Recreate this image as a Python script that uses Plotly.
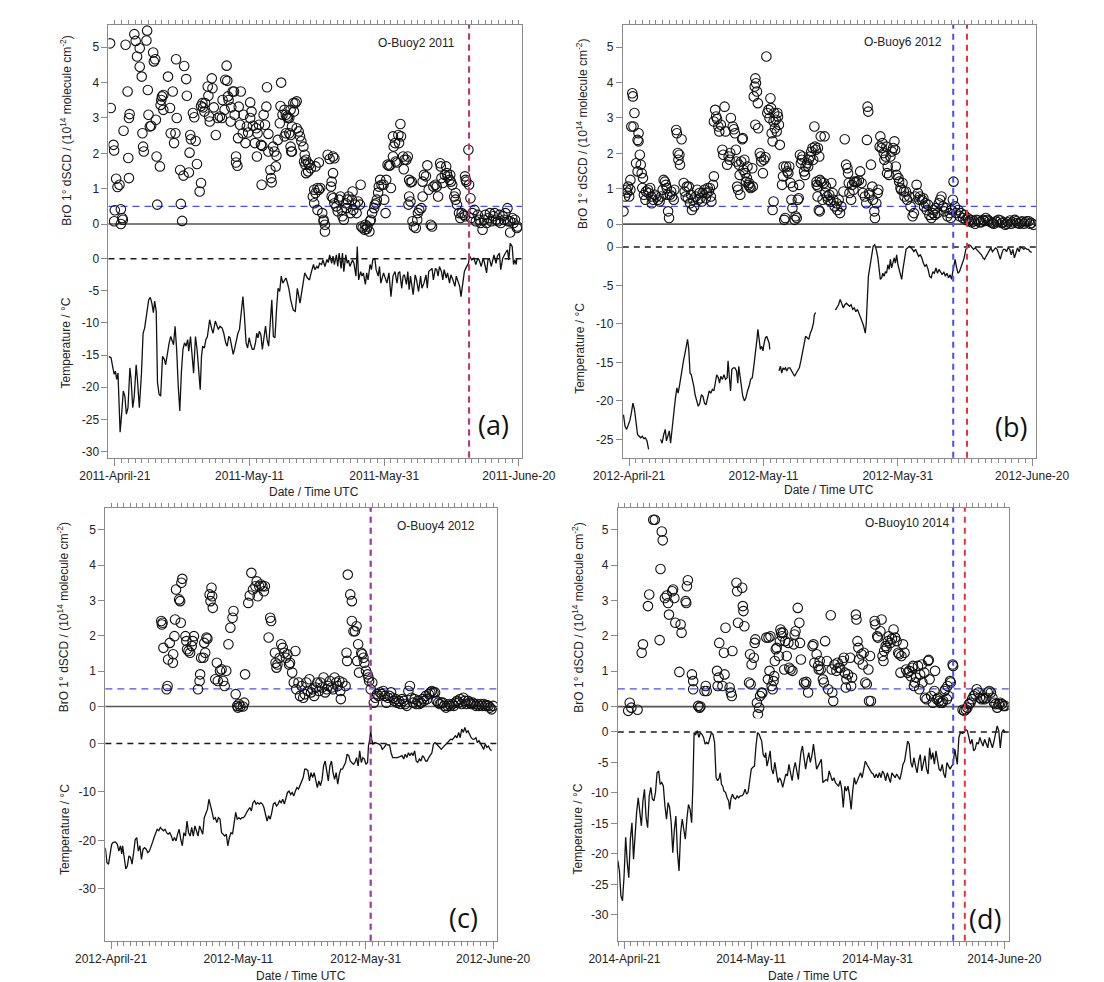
import pandas as pd
import plotly.graph_objects as go

W, H = 1104, 982

# ---------------------------------------------------------------------------
# Data: (days after April 21 00:00 UTC, value)
# BrO 1° dSCD in 1e14 molecule cm-2, temperature in °C
# ---------------------------------------------------------------------------
BRO_A = [
    (-0.7, 5.11), (-0.6, 3.28), (-0.2, 2.24), (-0.1, 2.08), (0.2, 1.28), (0.4, 1.05), (0.7, 1.11),
    (0.0, 0.39), (-0.1, 0.08), (0.9, 0.42), (0.9, 0.0), (1.1, 0.17), (1.2, 0.12), (1.3, 2.64),
    (1.6, 5.07), (1.9, 3.75), (2.0, 1.87), (2.1, 1.30), (2.2, 3.11), (2.1, 3.0), (2.9, 5.37),
    (3.1, 5.18), (3.3, 4.74), (3.7, 4.97), (3.7, 4.45), (4.0, 4.17), (4.1, 2.57), (4.2, 2.19),
    (4.3, 2.05), (4.8, 5.47), (4.7, 5.19), (4.9, 3.79), (5.0, 3.09), (5.2, 2.76), (5.4, 2.78),
    (6.1, 2.95), (5.7, 4.85), (5.8, 4.6), (6.0, 4.66), (6.2, 1.91), (6.3, 0.55), (6.7, 1.63),
    (6.8, 3.37), (6.9, 3.51), (7.0, 3.61), (7.2, 3.65), (7.2, 3.23), (7.9, 4.17), (8.2, 3.28),
    (8.3, 2.57), (8.6, 3.75), (8.8, 2.29), (9.0, 2.57), (9.1, 4.66), (9.2, 3.0), (9.7, 1.53),
    (9.8, 0.57), (10.0, 0.09), (10.2, 1.37), (10.3, 4.47), (10.6, 4.1), (10.7, 3.63), (11.0, 1.46),
    (11.1, 2.02), (11.2, 2.52), (11.3, 2.4), (11.6, 3.14), (11.8, 3.02), (12.0, 2.35), (12.2, 1.7),
    (12.6, 0.92), (12.8, 1.16), (12.8, 3.34), (13.0, 3.42), (13.1, 3.3), (13.3, 3.18), (13.4, 3.42),
    (13.8, 3.89), (13.9, 3.63), (14.0, 3.04), (14.1, 2.9), (14.4, 4.12), (14.5, 3.84), (14.7, 3.3),
    (15.0, 2.52), (15.3, 3.0), (15.6, 3.04), (15.9, 3.0), (16.0, 3.51), (16.3, 3.23), (16.4, 4.08),
    (16.6, 4.48), (16.7, 4.05), (16.8, 3.61), (16.9, 3.51), (17.2, 2.9), (17.3, 3.3), (17.5, 3.75),
    (17.7, 3.75), (17.8, 3.09), (18.0, 1.91), (18.0, 1.74), (18.2, 1.65), (18.3, 2.43), (18.4, 3.32),
    (18.6, 2.81), (18.7, 3.75), (19.0, 2.57), (19.1, 3.09), (19.4, 2.29), (19.6, 2.76), (19.8, 2.59),
    (20.1, 3.0), (20.1, 3.44), (20.3, 3.18), (20.5, 2.78), (20.8, 2.29), (21.0, 2.71), (21.1, 1.91),
    (21.2, 2.57), (21.4, 2.81), (21.7, 2.24), (21.8, 1.11), (21.9, 2.21), (22.1, 3.09), (22.3, 2.81),
    (22.5, 3.32), (22.6, 3.87), (22.8, 2.55), (22.8, 2.05), (23.1, 1.53), (23.2, 1.30), (23.3, 1.18),
    (23.5, 2.19), (23.7, 2.05), (23.9, 1.63), (24.0, 1.93), (24.2, 2.38), (24.5, 2.85), (24.6, 3.34),
    (24.7, 4.0), (24.9, 3.09), (25.2, 2.48), (25.4, 2.57), (25.6, 3.04), (25.9, 3.0), (26.1, 2.19),
    (26.3, 2.05), (26.5, 3.42),
    (25.2, 3.23), (25.4, 3.09), (25.7, 3.0), (26.1, 3.23), (26.6, 3.18), (26.8, 3.42), (27.0, 3.47),
    (25.9, 2.57), (26.1, 2.52), (26.3, 2.76), (27.0, 2.71), (27.3, 2.62), (27.5, 2.48), (27.7, 2.34),
    (26.2, 2.05), (28.0, 2.19), (28.2, 1.96), (28.4, 1.82), (28.1, 1.77), (28.3, 1.68), (28.7, 1.72),
    (28.9, 1.68), (28.4, 1.44), (28.7, 1.49), (29.1, 1.58), (29.4, 0.78), (29.6, 0.97), (29.8, 0.88),
    (30.1, 1.02), (30.3, 0.97), (30.5, 1.02), (29.6, 0.59), (29.8, 1.63), (30.3, 1.74), (30.1, 0.40),
    (30.8, 0.31), (31.0, 0.12), (31.2, -0.02), (31.2, -0.21), (31.0, 0.08), (31.6, 1.96), (31.9, 1.84),
    (32.4, 1.91), (32.6, 1.86), (32.2, 1.2), (32.4, 1.44), (32.1, 1.06), (32.2, 0.78), (32.4, 0.73),
    (32.6, 0.59), (32.9, 0.50), (33.1, 0.36), (33.3, 0.69), (33.5, 0.78), (33.7, 0.40), (33.8, 0.22),
    (34.0, 0.12), (34.3, 0.59), (34.4, 0.45), (34.5, 0.69), (34.7, 0.78), (35.0, 0.31), (35.2, 0.69),
    (35.3, 0.92), (35.4, 0.40), (35.7, 0.55), (35.9, 0.31), (36.1, 0.64), (36.4, 0.55), (36.5, 1.11),
    (36.6, -0.07), (36.8, -0.11), (37.1, -0.16), (37.2, -0.02), (37.4, -0.14), (37.5, -0.07),
    (37.8, -0.21), (37.9, 0.08), (38.0, 0.12), (38.2, 0.31), (38.5, 0.45), (38.6, 0.55), (38.8, 0.59),
    (38.9, 0.69), (39.1, 0.89), (39.2, 1.06), (39.4, 1.25), (39.6, 1.11), (39.9, 1.11), (40.0, 0.69),
    (40.2, 0.31), (40.3, 1.25), (40.5, 1.68), (40.7, 1.65), (40.9, 1.66), (41.0, 1.02), (41.3, 1.91),
    (41.4, 2.19), (41.3, 2.48), (41.6, 2.29), (41.7, 1.77), (41.9, 1.74), (42.1, 2.52), (42.2, 2.29),
    (42.4, 2.83), (42.5, 2.48), (42.8, 1.91), (42.9, 1.55), (43.0, 1.82), (43.3, 1.82), (43.5, 1.91),
    (43.7, 1.25), (43.9, 1.18), (44.1, 1.20), (43.7, 0.78), (43.9, 0.64), (43.6, 0.55), (44.2, 0.08),
    (44.4, -0.07), (44.7, -0.11), (44.9, 0.12), (45.0, 0.31), (45.2, 0.40), (45.5, 0.45), (45.7, 0.78),
    (45.7, 1.2), (45.9, 1.39), (46.2, 1.35), (46.4, 1.66), (46.6, 0.97), (46.9, -0.02), (47.1, -0.07),
    (47.3, 1.06), (47.6, 1.11), (47.8, 1.06), (48.0, 0.78), (48.3, 1.72), (48.4, 1.63), (48.5, 1.30),
    (48.7, 1.16), (49.0, 1.39), (49.2, 1.63), (49.3, 1.44), (49.4, 1.35), (49.7, 1.25), (49.8, 1.39),
    (49.9, 1.20), (50.1, 1.11), (50.4, 0.78), (50.6, 0.69), (50.6, 0.88), (50.8, 0.55), (51.1, 0.31),
    (51.3, 0.17), (51.5, 0.31), (51.8, 0.26), (52.0, 1.35), (52.1, 1.25), (52.2, 1.20), (52.0, 0.22),
    (52.5, 2.10), (52.6, 1.11), (52.8, 0.73), (52.9, 0.17), (53.1, 0.31), (53.4, 0.40), (53.6, 0.08),
    (53.9, 0.26), (54.1, 0.12), (54.3, 0.03), (54.6, -0.16), (54.8, 0.12), (55.0, 0.26), (55.2, 0.03),
    (55.5, 0.17), (55.7, 0.31), (55.9, 0.08), (56.2, 0.22), (56.4, 0.31), (56.6, 0.12), (56.9, 0.08),
    (57.1, 0.26), (57.3, 0.03), (57.6, 0.22), (57.8, 0.12), (58.0, 0.31), (58.3, 0.45), (58.4, 0.08),
    (58.7, -0.24), (58.7, 0.08), (59.0, 0.17), (59.2, 0.03), (59.4, 0.12), (59.7, -0.11), (59.8, -0.07),
]

TEMP_A = [
    (-0.93, -15.2), (-0.56, -15.4), (-0.33, -16.7), (-0.09, -18.0), (0.09, -17.5), (0.28, -18.8),
    (0.47, -17.8), (0.79, -27.0), (1.03, -24.0), (1.26, -20.6), (1.49, -21.4), (1.72, -24.2),
    (1.96, -23.2), (2.24, -17.0), (2.42, -18.8), (2.66, -23.2), (2.89, -21.4), (3.17, -16.5),
    (3.36, -18.8), (3.64, -23.2), (3.96, -17.8), (4.20, -11.6), (4.43, -10.8), (4.76, -8.2),
    (5.03, -6.4), (5.27, -6.0), (5.50, -6.9), (5.73, -8.4), (5.92, -6.6), (6.15, -8.2), (6.34, -19.3),
    (6.57, -21.1), (6.81, -21.4), (7.09, -15.2), (7.37, -15.7), (7.55, -16.5), (7.79, -14.7),
    (8.07, -13.1), (8.30, -12.1), (8.49, -12.6), (8.72, -13.4), (8.95, -10.5), (9.18, -14.1),
    (9.42, -19.8), (9.65, -23.7), (9.88, -17.8), (10.12, -14.1), (10.35, -13.1), (10.58, -13.6),
    (10.82, -12.6), (10.98, -14.4), (11.24, -12.1), (11.47, -15.2), (11.70, -17.8), (11.98, -12.1),
    (12.21, -14.1), (12.49, -17.8), (12.68, -20.4), (12.87, -15.2), (13.05, -13.6), (13.29, -13.9),
    (13.52, -12.6), (13.75, -12.1), (14.08, -9.5), (14.36, -10.8), (14.59, -11.6), (14.92, -9.7),
    (15.15, -10.5), (15.38, -11.0), (15.62, -10.5), (15.94, -10.8), (16.18, -11.6), (16.46, -13.1),
    (16.69, -13.6), (16.92, -12.1), (17.11, -12.3), (17.34, -13.6), (17.58, -14.9), (17.81, -13.9),
    (18.04, -12.6), (18.28, -11.6), (18.51, -11.0), (18.74, -9.0), (19.02, -5.9), (19.25, -9.0),
    (19.49, -13.1), (19.72, -13.9), (19.95, -12.3), (20.19, -13.4), (20.42, -14.1), (20.65, -14.1),
    (20.89, -13.1), (21.07, -11.6), (21.26, -12.3), (21.45, -11.3), (21.68, -11.8), (21.91, -14.1),
    (22.14, -12.1), (22.38, -10.5), (22.61, -12.6), (22.84, -13.6), (23.08, -10.0), (23.31, -6.4),
    (23.54, -12.1), (23.78, -12.3), (24.01, -7.9), (24.24, -4.6), (24.48, -5.1), (24.71, -2.7),
    (24.94, -3.8), (25.17, -3.5), (25.41, -3.0), (25.64, -3.8), (25.87, -4.8), (26.11, -6.4),
    (26.5, -8.0), (26.8, -8.2), (27.1, -4.6), (27.5, -6.9), (27.9, -4.3), (28.2, -2.2), (28.6, -3.0),
    (28.9, -3.3), (29.2, -2.0), (29.5, -0.9), (29.7, -1.7), (30.0, -1.2), (30.2, -1.5), (30.4, -0.7),
    (30.7, -0.9), (30.9, -0.2), (31.2, -1.2), (31.5, -0.1), (31.7, -0.6), (31.9, 0.6), (32.2, -0.7),
    (32.4, 0.4), (32.6, -0.9), (32.9, 0.6), (33.1, -1.2), (33.3, 0.9), (33.6, -1.5), (33.8, 0.9),
    (34.0, -2.0), (34.3, 0.6), (34.5, -0.7), (34.7, -0.2), (34.9, -1.2), (35.3, -0.2), (35.5, -0.7),
    (35.8, -2.7), (36.0, 1.9), (36.2, -3.3), (36.5, -2.0), (36.7, -2.7), (36.9, -2.2), (37.2, -4.0),
    (37.4, -2.2), (37.6, -3.3), (37.9, -0.9), (38.1, -1.7), (38.3, -0.2), (38.6, 0.1), (38.8, -1.7),
    (39.1, -2.7), (39.3, -1.2), (39.5, -3.8), (39.9, -2.2), (40.1, -3.0), (40.4, -3.8), (40.7, -2.2),
    (41.0, -5.9), (41.3, -2.7), (41.6, -2.0), (41.9, -3.8), (42.1, -2.2), (42.3, -2.0), (42.6, -4.6),
    (42.8, -2.7), (43.0, -2.5), (43.3, -4.0), (43.5, -2.0), (43.7, -4.8), (43.9, -2.7), (44.3, -5.6),
    (44.6, -2.5), (44.8, -3.3), (45.1, -5.1), (45.4, -2.7), (45.6, -4.6), (45.9, -3.8), (46.2, -2.5),
    (46.4, -4.6), (46.6, -2.0), (46.9, -1.7), (47.1, -1.5), (47.3, -3.3), (47.6, -1.5), (47.8, -1.7),
    (48.0, -2.7), (48.2, -1.2), (48.5, -2.0), (48.7, -3.3), (48.9, -1.7), (49.2, -3.0), (49.4, -2.2),
    (49.7, -3.8), (49.9, -2.5), (50.2, -3.3), (50.5, -4.3), (50.7, -2.7), (50.9, -3.5), (51.2, -4.3),
    (51.4, -5.9), (51.6, -4.3), (51.9, -2.0), (52.1, -1.5), (52.5, -0.7), (52.7, 0.4), (53.0, -0.2),
    (53.3, 0.1), (53.6, -0.9), (53.9, 0.1), (54.1, -0.2), (54.4, -1.2), (54.7, 0.1), (54.9, -0.7),
    (55.2, -2.2), (55.4, -0.2), (55.6, 0.1), (55.9, -1.2), (56.1, -0.2), (56.3, 0.6), (56.6, -0.7),
    (56.8, 0.4), (57.1, 0.9), (57.3, -1.7), (57.6, 0.1), (57.8, 0.6), (58.0, 0.9), (58.3, 1.4),
    (58.5, -0.2), (58.7, 2.4), (59.0, 1.9), (59.2, -0.9), (59.4, -0.2), (59.6, -0.9), (59.7, 0.1),
]

BRO_B = [
    (-0.84, 0.36), (-0.61, 0.78), (-0.28, 0.89), (0.0, 0.78), (0.19, 0.97), (-0.14, 1.06), (-0.37, 0.97),
    (0.47, 3.70), (0.56, 3.61), (0.33, 2.76), (0.65, 2.76), (0.79, 3.14), (0.19, 1.25), (1.03, 1.72),
    (1.40, 2.57), (1.26, 2.38), (1.40, 2.34), (1.59, 1.96), (1.73, 1.68), (1.26, 1.49), (1.87, 1.44),
    (2.06, 1.30), (1.96, 1.02), (2.20, 0.83), (2.43, 0.69), (2.52, 0.92), (2.81, 0.97), (2.90, 0.88),
    (3.13, 1.02), (3.27, 0.78), (3.37, 0.59), (3.60, 0.69), (3.83, 0.83), (4.07, 0.78), (4.30, 0.69),
    (4.53, 0.64), (4.77, 0.78), (5.0, 0.97), (5.14, 1.25), (5.33, 1.20), (5.47, 1.11), (5.61, 1.02),
    (5.70, 0.83), (5.80, 0.36), (5.94, 0.17), (6.08, 0.83), (6.26, 0.92), (6.40, 0.78), (6.64, 0.69),
    (6.73, 0.97), (7.01, 2.66), (7.11, 2.57), (7.25, 2.01), (7.34, 1.82), (7.48, 1.96), (7.57, 1.68),
    (7.81, 2.40), (8.13, 1.16), (8.27, 0.92), (8.42, 0.78), (8.60, 1.06), (8.74, 0.73), (8.88, 1.06),
    (9.07, 0.59), (9.21, 0.83), (9.35, 0.40), (9.54, 0.69), (9.68, 0.50), (9.91, 0.78), (10.14, 0.97),
    (10.28, 0.69), (10.47, 0.88), (10.61, 0.73), (10.85, 0.64), (10.94, 0.88), (11.22, 0.97),
    (11.41, 0.73), (11.55, 0.88), (11.69, 1.02), (11.87, 0.92), (12.01, 1.02), (12.16, 0.78),
    (12.25, 0.64), (12.48, 1.11), (12.62, 1.35), (12.62, 2.90), (12.81, 3.23), (12.95, 3.04),
    (13.09, 2.97), (13.28, 2.76), (13.42, 2.62), (13.65, 2.81), (13.88, 2.10), (14.02, 1.96),
    (14.21, 3.32), (14.35, 2.62), (14.59, 1.68), (14.82, 1.91), (14.96, 1.82), (15.05, 2.01),
    (15.15, 3.0), (15.43, 2.76), (15.61, 2.68), (15.75, 2.57), (15.90, 2.10), (15.99, 1.77),
    (16.08, 1.06), (16.22, 0.97), (16.36, 1.68), (16.46, 1.39), (16.55, 0.83), (16.69, 1.77),
    (16.83, 2.40), (16.92, 2.43), (17.02, 1.53), (17.16, 1.82), (17.30, 1.44), (17.39, 1.20),
    (17.53, 1.30), (17.62, 1.63), (17.77, 1.11), (17.86, 1.16), (17.95, 1.06), (18.09, 1.02),
    (18.33, 1.58), (18.42, 1.06), (18.56, 3.61), (18.70, 3.89), (18.79, 4.12), (18.89, 3.98),
    (19.03, 3.75), (19.17, 3.42), (18.79, 2.81), (19.22, 2.71), (19.45, 2.01), (19.59, 1.91),
    (19.68, 1.77), (19.92, 1.44), (20.06, 1.82), (20.29, 1.89), (20.43, 4.74), (20.57, 3.14),
    (20.76, 3.23), (20.90, 3.0), (21.04, 3.56), (21.13, 3.28), (21.22, 2.57), (21.36, 2.34),
    (21.50, 2.90), (21.60, 3.14), (21.69, 2.71), (21.83, 2.95), (21.97, 2.62), (22.07, 3.14),
    (22.16, 3.04), (22.30, 2.81), (22.44, 2.24), (21.50, 0.64), (21.36, 0.40), (22.77, 1.11),
    (22.91, 1.35), (23.0, 1.63), (23.09, 0.12), (23.24, 0.17), (23.38, 1.63), (23.56, 1.49),
    (23.70, 1.44), (23.84, 1.63), (24.03, 1.16), (24.17, 0.69), (24.31, 0.45), (24.40, 1.06),
    (24.64, 0.12), (24.78, 0.22), (24.96, 0.17), (25.11, 0.69), (25.25, 0.73), (25.34, 1.11),
    (25.43, 1.96), (25.57, 1.72), (25.71, 1.82), (25.81, 1.91), (26.04, 1.49), (26.18, 1.39),
    (26.27, 1.63), (26.51, 1.72), (26.65, 1.63), (26.74, 1.82), (26.97, 1.91), (27.12, 2.05),
    (27.30, 2.15), (27.58, 2.76), (27.67, 2.19), (27.91, 1.11), (28.05, 0.78), (28.24, 0.40),
    (28.38, 0.36), (28.52, 2.48),
    (27.4, 1.82), (27.8, 2.10), (28.1, 2.15), (28.3, 1.91), (27.9, 1.20), (28.1, 1.06), (28.4, 1.25),
    (28.6, 1.20), (28.8, 0.69), (29.0, 1.16), (29.1, 2.48), (29.2, 0.88), (29.3, 1.06), (29.5, 0.78),
    (29.6, 0.69), (29.8, 0.83), (30.0, 0.64), (30.1, 1.16), (30.3, 0.88), (30.4, 0.69), (30.6, 0.50),
    (30.9, 0.59), (31.0, 0.40), (31.2, 0.69), (31.4, 0.31), (31.6, 0.50), (31.9, 0.92), (32.1, 2.40),
    (32.3, 1.68), (32.5, 1.58), (32.6, 1.44), (32.7, 1.16), (32.8, 0.88), (33.05, 0.69), (33.2, 1.11),
    (33.4, 0.97), (33.5, 1.20), (33.7, 1.18), (33.9, 1.20), (34.2, 1.23), (34.4, 1.49), (34.6, 1.16),
    (34.8, 0.88), (35.1, 0.78), (35.3, 0.59), (35.4, 2.38), (35.5, 3.32), (35.6, 3.18), (35.7, 0.88),
    (35.8, 0.83), (36.0, 1.68), (36.2, 1.06), (36.3, 0.69), (36.5, 0.36), (36.6, 0.17), (36.8, 0.59),
    (37.0, 0.88), (37.1, 0.97), (37.3, 2.19), (37.4, 2.48), (37.6, 2.15), (37.7, 2.29), (37.9, 2.01),
    (38.0, 1.82), (38.2, 1.91), (38.3, 2.19), (38.4, 1.44), (38.5, 1.63), (38.7, 1.39), (38.9, 1.91),
    (39.1, 2.05), (39.3, 2.15), (39.5, 2.34), (39.6, 2.10), (39.7, 1.63), (39.8, 1.39), (40.1, 1.30),
    (40.2, 1.20), (40.4, 1.02), (40.5, 0.97), (40.7, 1.16), (40.9, 0.92), (41.0, 0.78), (41.2, 0.92),
    (41.4, 0.69), (41.7, 0.78), (41.9, 0.50), (42.2, 0.22), (42.4, 0.31), (42.6, 0.78), (42.8, 1.11),
    (43.0, 0.88), (43.2, 0.69), (43.3, 0.78), (43.6, 0.69), (43.8, 0.73), (43.9, 0.50), (44.1, 0.59),
    (44.3, 0.40), (44.5, 0.55), (44.7, 0.26), (45.0, 0.17), (45.2, 0.31), (45.3, 0.40), (45.5, 0.26),
    (45.6, 0.45), (45.9, 0.31), (46.1, 0.59), (46.3, 0.69), (46.5, 0.78), (46.7, 0.50), (46.9, 0.36),
    (47.2, 0.45), (47.4, 0.22), (47.7, 0.31), (47.9, 0.17), (48.0, 0.40), (48.2, 0.69), (48.3, 1.20),
    (48.5, 0.50), (48.7, 0.31), (49.0, 0.40), (49.2, 0.22), (49.4, 0.31), (49.7, 0.17), (49.9, 0.26),
    (50.1, 0.12), (50.4, 0.17), (50.6, 0.08), (50.8, 0.12), (51.0, 0.05), (51.3, 0.08), (51.5, 0.01),
    (51.7, 0.12), (52.0, 0.10), (52.2, 0.05), (52.4, 0.05), (52.7, 0.12), (52.9, 0.09), (53.1, 0.17),
    (53.4, 0.12), (53.6, 0.08), (53.9, 0.05), (54.1, 0.03), (54.3, 0.01), (54.6, 0.08), (54.8, 0.05),
    (55.0, 0.12), (55.3, 0.10), (55.5, 0.03), (55.7, 0.05), (56.0, -0.02), (56.2, 0.01), (56.4, 0.05),
    (56.7, 0.10), (56.9, 0.01), (57.1, 0.05), (57.4, 0.12), (57.6, 0.08), (57.8, 0.03), (58.1, 0.01),
    (58.3, 0.05), (58.5, 0.08), (58.8, 0.01), (59.0, 0.05), (59.2, 0.08), (59.5, 0.08), (59.7, 0.01),
    (59.9, 0.03), (60.2, -0.02),
]

# temperature record with data gaps (None splits the line)
TEMP_B = [
    (-0.84, -21.8), (-0.61, -23.3), (-0.37, -23.7), (-0.14, -23.1), (0.09, -22.6), (0.33, -21.6),
    (0.56, -20.3), (0.79, -21.1), (1.03, -23.3), (1.26, -24.4), (1.50, -24.6), (1.73, -24.8),
    (1.96, -24.6), (2.20, -24.9), (2.43, -24.8), (2.66, -25.2), (2.90, -26.3),
    (None, None),
    (4.68, -25.0), (4.91, -25.5), (5.14, -24.4), (5.38, -23.7), (5.56, -25.2), (5.80, -24.4),
    (5.98, -23.9), (6.17, -25.5), (6.40, -23.3), (6.64, -21.6), (6.87, -19.8), (7.11, -18.3),
    (7.29, -19.0), (7.48, -18.1), (7.71, -16.8), (7.90, -15.3), (8.13, -14.6), (8.32, -13.8),
    (8.51, -12.9), (8.70, -12.0), (8.88, -13.3), (9.07, -16.4), (9.26, -16.6), (9.44, -17.2),
    (9.63, -18.1), (9.82, -19.2), (10.05, -19.8), (10.29, -20.7), (10.52, -20.3), (10.75, -19.2),
    (10.99, -19.4), (11.22, -20.3), (11.45, -20.5), (11.69, -19.4), (11.92, -18.7), (12.16, -19.0),
    (12.39, -18.5), (12.62, -18.7), (12.86, -17.7), (13.04, -16.6), (13.28, -17.0), (13.46, -17.7),
    (13.65, -16.8), (13.88, -17.2), (14.12, -16.6), (14.35, -17.2), (14.59, -17.0), (14.73, -14.8),
    (14.91, -16.8), (15.10, -18.7), (15.29, -15.9), (15.52, -15.7), (15.75, -15.7), (15.99, -16.1),
    (16.18, -17.7), (16.32, -15.5), (16.46, -16.4), (16.69, -18.3), (16.92, -19.4), (17.16, -20.0),
    (17.39, -19.6), (17.62, -18.7), (17.86, -18.1), (18.09, -17.2), (18.33, -17.0), (18.56, -15.5),
    (18.79, -14.0), (19.03, -12.0), (19.17, -10.7), (19.36, -12.3), (19.54, -13.3), (19.73, -12.9),
    (19.92, -13.5), (20.10, -12.5), (20.29, -11.8), (20.48, -11.6), (20.66, -12.0), (20.85, -12.5),
    (20.94, -13.3),
    (None, None),
    (22.30, -16.1), (22.53, -15.5), (22.72, -16.4), (22.91, -15.7), (23.09, -15.9), (23.28, -15.7),
    (23.47, -16.1), (23.70, -15.7), (23.94, -15.7), (24.17, -16.1), (24.40, -16.6), (24.64, -16.8),
    (24.87, -16.4), (25.11, -16.1), (25.34, -15.7), (25.57, -14.8), (25.81, -13.8), (26.04, -12.7),
    (26.27, -11.6), (26.51, -11.8), (26.74, -12.0), (26.97, -11.2), (27.21, -10.7), (27.44, -9.9),
    (27.58, -8.8), (27.77, -8.5),
    (None, None),
    (30.71, -8.2), (30.95, -7.9), (31.18, -7.5), (31.42, -6.8), (31.65, -7.3), (31.88, -7.9),
    (32.12, -7.5), (32.35, -7.3), (32.58, -7.5), (32.82, -7.7), (33.05, -7.5), (33.28, -8.1),
    (33.52, -7.9), (33.75, -8.4), (33.99, -8.1), (34.22, -8.6), (34.45, -9.0), (34.69, -9.7),
    (34.92, -10.3), (35.16, -11.2), (35.30, -9.9), (35.44, -6.4), (35.62, -3.8), (35.86, -2.5),
    (36.09, -1.2), (36.33, 0.1), (36.56, 0.3), (36.79, -0.3), (37.03, -1.4), (37.26, -2.9),
    (37.40, -4.2), (37.59, -4.0), (37.77, -3.4), (37.96, -3.8), (38.15, -3.2), (38.33, -3.4),
    (38.52, -2.3), (38.71, -2.9), (38.90, -1.6), (39.08, -2.7), (39.27, -2.1), (39.46, -1.4),
    (39.64, -2.1), (39.83, -1.0), (40.02, -2.3), (40.20, -2.9), (40.39, -3.8), (40.58, -4.2),
    (40.76, -2.9), (41.00, -1.2), (41.23, -0.3), (41.47, -0.1), (41.70, 0.1), (41.93, 0.0),
    (42.17, -0.3), (42.40, -0.6), (42.64, -0.3), (42.87, -0.8), (43.10, -1.2), (43.34, -1.0),
    (43.57, -1.4), (43.81, -2.1), (44.04, -2.5), (44.27, -2.3), (44.51, -2.9), (44.74, -3.8),
    (44.98, -4.0), (45.21, -3.2), (45.44, -3.4), (45.68, -2.7), (45.91, -3.4), (46.14, -2.9),
    (46.38, -3.2), (46.61, -3.6), (46.85, -3.2), (47.08, -3.8), (47.31, -3.4), (47.55, -4.0),
    (47.78, -3.6), (48.01, -4.2), (48.15, -3.4), (48.34, -2.3), (48.53, -1.6), (48.71, -2.5),
    (48.95, -3.4), (49.18, -3.2), (49.42, -2.5), (49.65, -2.1), (49.88, -1.4), (50.12, -0.3),
    (50.35, 0.1), (50.58, 0.3), (50.82, 0.2), (51.05, -0.1), (51.28, -0.3), (51.52, -0.1),
    (51.75, -0.3), (51.98, -0.6), (52.22, -0.8), (52.45, -1.0), (52.69, -1.4), (52.92, -1.6),
    (53.15, -1.2), (53.39, -0.8), (53.62, -0.3), (53.85, -0.1), (54.09, -0.6), (54.32, -0.3),
    (54.55, -0.1), (54.79, -0.3), (55.02, -1.0), (55.26, -1.6), (55.49, -0.8), (55.72, -0.3),
    (55.96, -0.3), (56.19, -0.6), (56.42, -0.1), (56.66, -0.3), (56.89, -1.0), (57.12, -0.3),
    (57.36, -1.4), (57.59, -0.8), (57.82, -0.1), (58.06, -0.6), (58.29, 0.0), (58.53, -0.1),
    (58.76, -0.3), (58.99, -0.1), (59.23, -0.3), (59.46, -0.3), (59.69, -0.6), (59.93, -0.7),
]

BRO_C = [
    (7.89, 2.42), (7.99, 2.32), (8.09, 2.37), (8.23, 1.66), (8.73, 0.49), (8.88, 0.58), (8.97, 1.33),
    (9.22, 1.80), (9.71, 1.24), (9.76, 1.48), (9.96, 1.99), (10.06, 2.46), (10.21, 3.31), (10.70, 3.03),
    (10.85, 2.98), (10.95, 2.37), (11.05, 3.50), (11.19, 3.61), (11.69, 1.99), (11.83, 1.85),
    (11.93, 1.62), (12.17, 1.57), (12.42, 1.52), (12.67, 1.71), (12.82, 1.85), (13.02, 1.99),
    (13.66, 0.49), (13.91, 0.72), (14.00, 0.91), (14.15, 1.38), (14.50, 1.38), (14.64, 1.80),
    (14.79, 1.52), (14.99, 1.95), (15.14, 1.92), (15.48, 3.17), (15.63, 2.98), (15.78, 3.36),
    (15.88, 3.12), (15.98, 2.79), (16.37, 0.77), (16.62, 1.24), (16.77, 0.72), (17.11, 1.01),
    (17.36, 1.05), (17.60, 0.72), (17.85, 0.58), (18.10, 1.01), (18.44, 1.76), (18.74, 2.23),
    (19.08, 2.51), (19.23, 2.70), (19.58, 0.35), (19.82, 0.02), (19.92, -0.03), (20.07, 0.07),
    (20.32, 0.0), (20.71, 0.0), (20.91, 0.11), (21.05, 0.91), (21.55, 2.93), (21.79, 3.14),
    (22.04, 3.78), (22.29, 3.31), (22.68, 3.40), (22.88, 3.54), (23.03, 3.12), (23.27, 3.40),
    (23.52, 3.45), (23.77, 3.40), (24.01, 3.26), (24.16, 3.40), (24.75, 1.95), (25.00, 2.51),
    (25.15, 2.42), (25.74, 1.52), (25.84, 1.24), (25.99, 1.10), (26.13, 1.19), (26.48, 1.38),
    (26.73, 1.76), (26.97, 1.66), (27.22, 1.52), (27.47, 1.38), (27.71, 1.48), (27.96, 1.19),
    (28.11, 1.24), (28.45, 0.96), (28.70, 0.68), (28.95, 1.57), (29.09, 0.49), (29.44, 0.68),
    (29.68, 0.30), (29.93, 0.58), (30.18, 0.25), (30.42, 0.35), (30.67, 0.68), (30.92, 0.44),
    (31.16, 0.77), (31.41, 0.40), (31.66, 0.49), (31.90, 0.30), (32.15, 0.54), (32.40, 0.68),
    (32.64, 0.44), (32.89, 0.68), (33.14, 0.54), (33.38, 0.82), (33.63, 0.40), (33.88, 0.49),
    (34.12, 0.58), (34.37, 0.72), (34.62, 0.54), (34.86, 0.49), (35.11, 0.82), (35.36, 0.68),
    (35.60, 0.58), (35.85, 0.72), (36.0, 0.44), (36.09, 0.21), (36.34, 0.68), (36.83, 0.58),
    (36.98, 1.52), (37.08, 1.29), (37.18, 3.73), (37.57, 3.17), (37.82, 2.98), (37.82, 2.42),
    (38.07, 2.13), (38.31, 2.13), (38.56, 2.27), (38.81, 1.76), (38.95, 0.96), (38.66, 1.29),
    (39.30, 1.52), (39.45, 1.48), (39.64, 1.38), (39.79, 1.24), (40.04, 1.01), (40.29, 0.91),
    (40.43, 0.82), (40.53, 0.72), (40.78, 0.49), (41.03, 0.68),
    (41.27, 0.11), (41.52, 0.25), (41.77, 0.35), (42.01, 0.30), (42.26, 0.40), (42.50, 0.35),
    (42.75, 0.44), (43.0, 0.30), (43.24, 0.11), (43.49, 0.25), (43.74, 0.30), (43.98, 0.40),
    (44.23, 0.25), (44.48, 0.16), (44.72, 0.21), (44.97, 0.11), (45.22, 0.16), (45.46, 0.07),
    (45.71, 0.21), (45.96, 0.16), (46.2, 0.07), (46.45, 0.02), (46.70, 0.44), (46.94, 0.58),
    (47.19, 0.25), (47.44, 0.11), (47.68, 0.21), (47.93, 0.07), (48.17, 0.16), (48.42, 0.07),
    (48.67, 0.11), (48.92, 0.21), (49.16, 0.16), (49.41, 0.30), (49.65, 0.21), (49.90, 0.35),
    (50.15, 0.40), (50.39, 0.44), (50.64, 0.40), (50.89, 0.40), (51.13, 0.16), (51.38, 0.11),
    (51.63, 0.07), (51.87, 0.11), (52.12, 0.11), (52.37, 0.02), (52.61, -0.03), (52.86, 0.02),
    (53.11, 0.07), (53.35, 0.02), (53.60, 0.07), (53.85, 0.02), (54.09, 0.11), (54.34, 0.16),
    (54.59, 0.11), (54.83, 0.21), (55.08, 0.07), (55.33, 0.25), (55.57, 0.16), (55.82, 0.07),
    (56.07, 0.16), (56.31, 0.11), (56.56, 0.07), (56.80, 0.11), (57.05, 0.07), (57.30, 0.02),
    (57.54, 0.07), (57.79, 0.02), (58.04, 0.07), (58.28, 0.02), (58.53, 0.07), (58.78, 0.02),
    (59.02, 0.04), (59.27, 0.02), (59.52, -0.03), (59.76, -0.08), (60.0, 0.02),
]

TEMP_C = [
    (-0.89, -21.5), (-0.64, -24.6), (-0.39, -24.9), (-0.15, -23.2), (0.10, -20.8), (0.35, -20.4),
    (0.69, -20.3), (0.99, -20.8), (1.23, -22.2), (1.48, -21.1), (1.68, -22.8), (1.82, -21.1),
    (2.07, -23.9), (2.32, -25.9), (2.56, -25.3), (2.81, -23.2), (3.06, -23.5), (3.30, -24.9),
    (3.55, -22.5), (3.80, -19.8), (4.04, -19.4), (4.29, -22.2), (4.54, -21.1), (4.78, -23.9),
    (5.03, -21.8), (5.28, -21.5), (5.52, -21.8), (5.77, -22.5), (6.02, -22.2), (6.26, -21.5),
    (6.51, -20.4), (6.76, -19.4), (7.00, -18.4), (7.25, -17.7), (7.50, -18.0), (7.74, -17.3),
    (7.99, -17.7), (8.23, -18.0), (8.48, -17.7), (8.73, -18.4), (8.97, -18.7), (9.22, -18.4),
    (9.47, -19.1), (9.71, -20.1), (9.96, -19.4), (10.21, -20.1), (10.45, -18.7), (10.70, -17.7),
    (10.95, -19.8), (11.19, -21.1), (11.44, -18.4), (11.69, -19.1), (11.93, -16.0), (12.18, -18.4),
    (12.43, -19.1), (12.67, -17.3), (12.92, -19.1), (13.17, -17.0), (13.41, -18.0), (13.66, -19.1),
    (13.91, -17.0), (14.15, -17.7), (14.40, -18.7), (14.64, -15.3), (14.89, -14.6), (15.14, -13.6),
    (15.38, -11.5), (15.63, -13.2), (15.88, -14.2), (16.12, -15.6), (16.37, -15.3), (16.62, -16.3),
    (16.86, -15.3), (17.11, -15.6), (17.36, -18.4), (17.60, -18.7), (17.85, -19.1), (18.10, -18.7),
    (18.34, -21.1), (18.59, -19.4), (18.84, -18.4), (19.08, -18.7), (19.33, -16.3), (19.58, -14.2),
    (19.82, -15.6), (20.07, -15.3), (20.32, -15.6), (20.56, -15.3), (20.81, -15.3), (21.05, -14.9),
    (21.30, -14.2), (21.55, -13.6), (21.79, -13.2), (22.04, -13.9), (22.29, -12.2), (22.53, -11.8),
    (22.78, -12.5), (23.03, -12.2), (23.27, -12.5), (23.52, -12.2), (23.77, -12.5), (24.01, -13.2),
    (24.26, -14.9), (24.51, -16.0), (24.75, -14.9), (25.00, -15.6), (25.25, -14.2), (25.49, -12.5),
    (25.74, -12.2), (25.99, -12.9), (26.23, -12.5), (26.48, -11.8), (26.73, -12.2), (26.97, -11.5),
    (27.22, -12.5), (27.47, -11.1), (27.71, -10.1), (27.96, -9.8), (28.21, -10.5), (28.45, -10.1),
    (28.70, -10.8), (28.95, -9.8), (29.19, -9.1), (29.44, -9.4), (29.68, -8.7), (29.93, -7.7),
    (30.18, -7.0), (30.42, -5.3), (30.67, -5.3), (30.92, -5.6), (31.16, -7.7), (31.41, -6.0),
    (31.66, -7.0), (31.90, -6.0), (32.15, -7.4), (32.40, -9.1), (32.64, -7.7), (32.89, -8.7),
    (33.14, -7.4), (33.38, -4.6), (33.63, -3.6), (33.88, -5.6), (34.12, -7.7), (34.37, -4.6),
    (34.62, -3.6), (34.86, -6.0), (35.11, -7.4), (35.36, -6.0), (35.60, -8.4), (35.85, -6.3),
    (36.09, -5.3), (36.34, -5.3), (36.59, -4.6), (36.83, -3.9), (37.08, -2.2), (37.33, -2.5),
    (37.57, -3.6), (37.82, -3.9), (38.07, -4.3), (38.31, -3.9), (38.56, -2.9), (38.81, -4.6),
    (39.05, -1.5), (39.30, -3.9), (39.55, -2.9), (39.79, -3.2), (40.04, -4.3), (40.29, -3.9),
    (40.43, -0.5), (40.63, 0.9), (40.78, 2.6), (40.93, 0.9), (41.12, -0.1), (41.42, 0.2),
    (41.77, 0.1), (42.11, -0.1), (42.41, -0.5), (42.60, -1.2), (42.90, -0.8), (43.24, -0.1),
    (43.49, -0.3), (43.74, -0.3), (43.98, -1.9), (44.23, -2.9), (44.58, -2.9), (44.97, -2.9),
    (45.36, -2.7), (45.71, -2.5), (45.96, -3.2), (46.2, -2.2), (46.45, -2.9), (46.70, -1.9),
    (46.94, -2.5), (47.19, -1.9), (47.44, -2.5), (47.68, -1.5), (47.93, -3.6), (48.17, -3.9),
    (48.42, -3.2), (48.67, -3.6), (48.92, -2.5), (49.16, -2.9), (49.41, -3.6), (49.65, -3.6),
    (49.90, -2.9), (50.15, -2.5), (50.39, -1.9), (50.64, -0.1), (50.89, 0.2), (51.13, -0.1),
    (51.38, -0.5), (51.63, -0.8), (51.87, -1.2), (52.12, -0.8), (52.37, -0.5), (52.61, -0.1),
    (52.86, 0.2), (53.11, 0.6), (53.35, 0.9), (53.60, 0.8), (53.85, 1.2), (54.09, 1.6),
    (54.34, 1.2), (54.59, 2.3), (54.83, 1.2), (55.08, 3.0), (55.33, 2.3), (55.57, 3.3),
    (55.82, 2.3), (56.07, 2.6), (56.31, 1.9), (56.56, 1.2), (56.80, 0.9), (57.05, 0.9),
    (57.30, 1.2), (57.54, 0.2), (57.79, 0.6), (58.04, -0.1), (58.28, -0.5), (58.53, -1.2),
    (58.78, -0.1), (59.02, -0.8), (59.27, -0.5), (59.52, -1.2), (59.76, -1.5),
]

BRO_D = [
    (0.60, -0.12), (0.84, 0.11), (1.09, -0.03), (2.08, -0.09), (2.73, 1.52), (2.93, 1.76), (3.72, 2.84),
    (3.92, 3.17), (4.56, 5.28), (4.81, 5.28), (5.56, 1.88), (5.70, 3.89), (5.90, 4.95), (6.05, 4.70),
    (6.40, 3.07), (6.70, 3.14), (6.90, 2.93), (7.04, 2.60), (7.54, 3.26), (7.69, 3.31), (7.89, 3.07),
    (8.04, 2.37), (8.68, 0.98), (8.88, 2.32), (9.03, 2.09), (9.67, 2.98), (9.77, 2.93), (9.87, 3.40),
    (10.02, 3.57), (10.66, 0.91), (10.86, 0.72), (10.86, 0.49), (11.65, 0.02), (11.86, -0.03),
    (12.0, 0.0), (12.65, 0.44), (12.85, 0.58), (13.0, 0.44), (14.63, 1.01), (14.73, 0.58),
    (14.88, 0.82), (14.98, 1.80), (15.48, 0.58), (15.72, 1.52), (15.82, 0.91), (15.97, 2.23),
    (16.62, 0.54), (16.82, 0.40), (16.96, 0.30), (17.06, 1.57), (17.70, 3.50), (17.80, 3.26),
    (17.95, 2.37), (18.60, 3.36), (18.70, 2.84), (18.80, 2.70), (18.95, 2.27), (19.69, 0.68),
    (19.94, 0.63), (19.84, 1.48), (20.09, 1.19), (20.44, 1.38), (20.68, 1.90), (20.58, 1.80),
    (20.93, 0.11), (21.08, -0.22), (21.28, -0.03), (21.43, 0.30), (21.68, 0.40), (21.78, 0.38),
    (22.42, 1.95), (22.67, 0.77), (22.92, 1.01), (22.77, 1.95), (23.07, 1.99), (23.26, 0.58),
    (23.41, 0.49), (23.56, 0.72), (23.66, 0.86), (23.76, 1.29), (23.91, 1.62), (24.06, 1.66),
    (24.40, 1.43), (24.55, 1.85), (24.65, 2.18), (24.75, 2.09), (24.90, 1.99), (25.05, 2.09),
    (25.25, 1.05), (25.40, 1.85), (25.64, 1.43), (25.89, 1.80), (26.04, 1.10), (26.24, 1.05),
    (26.54, 1.01), (26.74, 1.76), (26.88, 2.04), (27.03, 2.13), (27.38, 2.79), (27.63, 2.37),
    (27.73, 1.80), (27.88, 1.33), (28.37, 0.68), (28.62, 0.63), (28.72, 0.70), (29.02, 0.40),
    (29.71, 1.71), (29.86, 1.76), (30.01, 1.24), (30.36, 1.48), (30.60, 1.15), (30.70, 1.05),
    (30.85, 1.29), (31.0, 1.05), (31.35, 0.77), (31.50, 0.68), (31.70, 1.85), (31.99, 1.29),
    (32.19, 0.49), (32.59, 2.58), (32.74, 1.05), (32.84, 0.40), (32.99, 0.16), (33.18, 1.19),
    (33.48, 1.01), (33.68, 1.24), (33.83, 1.10), (34.08, 1.10), (34.47, 1.29), (34.67, 1.38),
    (34.82, 0.96), (34.97, 0.54), (35.07, 0.77), (35.32, 0.91), (35.66, 1.38), (35.81, 0.58),
    (35.96, 0.82), (36.56, 2.60), (36.66, 2.46), (36.81, 1.85), (36.96, 1.66), (37.05, 1.33),
    (37.45, 1.48), (37.65, 1.19), (37.80, 1.52), (38.05, 0.68), (38.29, 0.63), (38.54, 1.05),
    (38.64, 0.16), (38.94, 0.16), (38.79, 1.43), (39.53, 2.42), (39.63, 2.32), (39.93, 1.99),
    (40.03, 1.95), (40.43, 2.13), (40.62, 2.46), (40.77, 1.43), (40.92, 1.29), (41.02, 1.57),
    (41.27, 1.71), (41.42, 1.66), (41.62, 1.85), (41.77, 1.99), (42.01, 1.80), (42.26, 1.92),
    (42.51, 2.18), (42.76, 1.95), (43.0, 1.85), (43.25, 1.52), (43.40, 1.48), (43.75, 1.43),
    (44.0, 1.76), (44.25, 1.52), (43.60, 0.96), (44.49, 1.05), (44.74, 0.96), (44.99, 1.01),
    (45.24, 0.86), (45.48, 1.10), (45.58, 1.15), (45.73, 0.58), (45.88, 0.68), (46.08, 0.82),
    (46.37, 1.15), (46.57, 0.49), (46.72, 0.91), (46.97, 1.19), (47.07, 0.68), (47.37, 0.96),
    (47.47, 0.25), (47.72, 0.21), (47.97, 1.29), (48.07, 1.32), (48.21, 0.77), (48.46, 0.30),
    (48.71, 0.11), (48.96, 0.44), (49.06, 1.01), (49.36, 0.21), (49.55, 0.25), (49.70, 0.16),
    (49.95, 0.11), (50.20, 0.11), (50.35, 0.16), (50.55, 0.44), (50.69, 0.49), (50.94, 0.21),
    (51.04, 0.58), (51.19, 0.30), (51.44, 0.72), (51.54, 0.68), (51.84, 1.19), (51.93, 1.15),
    (53.42, -0.09), (53.67, -0.12), (53.92, -0.08), (54.17, -0.03), (54.41, 0.07), (54.66, 0.11),
    (54.91, 0.21), (55.16, 0.30), (55.41, 0.35), (55.65, 0.49), (55.90, 0.40), (56.15, 0.25),
    (56.40, 0.21), (56.65, 0.25), (56.89, 0.21), (57.14, 0.25), (57.39, 0.40), (57.64, 0.44),
    (57.89, 0.40), (58.13, 0.25), (58.38, 0.11), (58.63, 0.07), (58.88, -0.03), (59.13, 0.07),
    (59.37, 0.11), (59.62, 0.07), (59.87, 0.02), (60.12, 0.02),
]

TEMP_D = [
    (-1.04, -21.1), (-0.79, -22.8), (-0.55, -26.9), (-0.30, -27.7), (-0.05, -23.6), (0.20, -17.3),
    (0.45, -21.4), (0.69, -23.9), (0.94, -17.6), (1.19, -14.9), (1.44, -20.9), (1.69, -16.5),
    (1.93, -13.2), (2.18, -10.8), (2.43, -13.8), (2.68, -15.4), (2.93, -11.3), (3.17, -9.4),
    (3.42, -14.0), (3.67, -15.7), (3.92, -10.5), (4.17, -9.1), (4.41, -11.0), (4.66, -11.3),
    (4.91, -9.9), (5.16, -6.7), (5.41, -6.4), (5.65, -8.6), (5.90, -8.3), (6.15, -8.9), (6.40, -12.1),
    (6.65, -14.3), (6.90, -11.6), (7.14, -12.4), (7.39, -14.9), (7.64, -19.8), (7.89, -16.0),
    (8.13, -13.8), (8.38, -19.8), (8.63, -22.8), (8.88, -16.5), (9.13, -14.3), (9.38, -16.0),
    (9.62, -17.6), (9.87, -14.3), (10.12, -11.9), (10.37, -12.7), (10.62, -14.9), (10.81, -8.9),
    (11.01, -0.1), (11.26, -0.4), (11.51, 0.2), (11.76, -0.9), (12.0, -0.1), (12.25, -0.4),
    (12.5, -0.9), (12.75, -2.0), (13.0, -1.7), (13.24, -2.0), (13.49, -0.9), (13.74, -0.1),
    (13.99, -0.4), (14.24, -1.7), (14.48, -7.5), (14.73, -8.0), (14.98, -7.5), (15.13, -6.7),
    (15.33, -8.6), (15.53, -8.9), (15.72, -9.7), (15.97, -9.9), (16.22, -10.8), (16.47, -11.3),
    (16.62, -12.7), (16.82, -11.0), (17.06, -10.2), (17.31, -10.8), (17.56, -11.0), (17.81, -10.5),
    (18.06, -10.8), (18.30, -10.5), (18.55, -10.5), (18.80, -10.2), (19.05, -9.4), (19.30, -10.2),
    (19.54, -9.9), (19.79, -8.0), (20.04, -6.1), (20.29, -5.8), (20.54, -5.6), (20.78, -2.3),
    (21.03, -0.1), (21.28, -0.4), (21.53, -1.2), (21.68, -1.5), (21.92, -3.7), (22.17, -4.2),
    (22.32, -3.4), (22.52, -5.6), (22.77, -4.5), (23.02, -3.1), (23.26, -6.1), (23.51, -6.9),
    (23.76, -5.0), (24.01, -6.7), (24.26, -8.3), (24.50, -7.5), (24.75, -8.0), (25.0, -9.1),
    (25.25, -7.8), (25.50, -6.9), (25.74, -7.2), (25.99, -5.3), (26.24, -6.7), (26.49, -8.0),
    (26.74, -6.1), (26.98, -5.0), (27.23, -6.4), (27.48, -7.8), (27.63, -5.8), (27.88, -3.4),
    (28.12, -2.3), (28.37, -4.2), (28.62, -6.1), (28.87, -4.5), (29.12, -3.4), (29.36, -5.0),
    (29.61, -3.9), (29.86, -2.0), (30.11, -4.5), (30.36, -6.1), (30.60, -5.6), (30.85, -5.0),
    (31.10, -4.5), (31.35, -8.3), (31.60, -8.0), (31.85, -7.8), (32.09, -8.0), (32.34, -6.4),
    (32.59, -7.2), (32.84, -8.0), (33.09, -7.5), (33.33, -8.3), (33.58, -8.6), (33.83, -8.9),
    (34.08, -8.0), (34.33, -9.4), (34.57, -12.4), (34.82, -8.9), (35.07, -9.7), (35.32, -8.9),
    (35.57, -10.5), (35.81, -12.7), (36.06, -9.7), (36.31, -7.5), (36.56, -8.6), (36.81, -8.0),
    (37.05, -7.5), (37.30, -6.7), (37.55, -7.5), (37.80, -6.4), (38.05, -4.8), (38.29, -5.3),
    (38.54, -5.8), (38.79, -6.1), (39.04, -6.7), (39.29, -6.9), (39.53, -7.5), (39.78, -6.9),
    (40.03, -7.5), (40.28, -6.7), (40.53, -7.5), (40.77, -6.4), (41.02, -6.9), (41.27, -8.0),
    (41.52, -6.7), (41.77, -7.5), (42.01, -8.3), (42.26, -6.7), (42.51, -7.2), (42.76, -7.5),
    (43.0, -6.9), (43.25, -7.5), (43.50, -7.8), (43.75, -6.7), (44.0, -5.3), (44.25, -4.8),
    (44.49, -3.4), (44.74, -1.5), (44.99, -2.0), (45.24, -5.0), (45.48, -5.8), (45.73, -4.2),
    (45.98, -5.6), (46.23, -6.7), (46.48, -4.8), (46.73, -3.7), (46.97, -6.4), (47.22, -5.0),
    (47.47, -3.9), (47.72, -6.1), (47.97, -6.9), (48.21, -2.6), (48.46, -4.5), (48.71, -3.4),
    (48.96, -5.3), (49.21, -3.1), (49.45, -4.5), (49.70, -6.1), (49.95, -6.4), (50.20, -5.3),
    (50.45, -6.9), (50.69, -7.5), (50.94, -5.0), (51.19, -5.6), (51.44, -6.1), (51.69, -5.6),
    (51.93, -5.3), (52.18, -2.8), (52.43, -4.5), (52.58, -5.3), (52.83, -0.9), (53.08, -0.1),
    (53.42, -0.2), (53.67, -0.1), (53.92, 0.4), (54.17, 0.2), (54.41, -0.9), (54.66, -2.0),
    (54.91, -1.2), (55.16, -3.1), (55.41, -2.8), (55.65, -1.7), (55.90, -2.0), (56.15, -0.9),
    (56.40, -1.7), (56.65, -2.3), (56.89, -1.2), (57.14, -2.0), (57.39, -2.6), (57.64, -0.9),
    (57.89, -1.7), (58.13, -2.6), (58.38, -1.5), (58.63, -0.1), (58.88, 1.0), (59.13, 0.2),
    (59.37, -2.6), (59.62, -0.1), (59.87, 0.4), (60.12, -0.1),
]

# buoy names, years, date tick labels
BUOYS = ["O-Buoy2 2011", "O-Buoy6 2012", "O-Buoy4 2012", "O-Buoy10 2014"]
YEARS = [2011, 2012, 2012, 2014]
LETTERS = ["(a)", "(b)", "(c)", "(d)"]
DATE_LABELS = {
    2011: ["2011-April-21", "2011-May-11", "2011-May-31", "2011-June-20"],
    2012: ["2012-April-21", "2012-May-11", "2012-May-31", "2012-June-20"],
    2014: ["2014-April-21", "2014-May-11", "2014-May-31", "2014-June-20"],
}
LABEL_DAYS = [0, 20, 40, 60]
BRO_TICKS = [0, 1, 2, 3, 4, 5]
TEMP_TICKS = [
    [0, -5, -10, -15, -20, -25, -30],
    [0, -5, -10, -15, -20, -25],
    [0, -10, -20, -30],
    [0, -5, -10, -15, -20, -25, -30],
]
BRO_THRESHOLD = 0.5
# event dates (days after April 21): (blue, red)
EVENT_DAYS = [(52.6, 52.6), (48.25, 50.3), (40.78, 40.78), (51.93, 53.77)]

SERIES = [(BRO_A, TEMP_A), (BRO_B, TEMP_B), (BRO_C, TEMP_C), (BRO_D, TEMP_D)]

# ---------------------------------------------------------------------------
# Layout geometry (pixel boxes of each panel) and axis ranges
# ---------------------------------------------------------------------------
GEOM = [
    dict(x0=83.3, x1=522.3, top=25.0, mid=238.0, bot=458.0, xr=(-0.94, 60.46),
         bro_r=(-0.387, 5.63), t_r=(-30.95, 3.27)),
    dict(x0=629.3, x1=1068.3, top=25.0, mid=236.0, bot=458.3, xr=(-0.94, 60.63),
         bro_r=(-0.33, 5.63), t_r=(-27.4, 1.47)),
    dict(x0=80.0, x1=495.7, top=508.3, mid=720.0, bot=941.7, xr=(-0.89, 60.61),
         bro_r=(-0.36, 5.62), t_r=(-40.7, 5.01)),
    dict(x0=624.0, x1=1039.0, top=508.3, mid=719.0, bot=941.7, xr=(-1.04, 60.71),
         bro_r=(-0.33, 5.62), t_r=(-34.26, 2.25)),
]
TITLE_POS = [(410, 43), (927, 42), (431, 527), (931, 524)]
LETTER_POS = [(492, 425), (1041, 427), (460, 918), (1014, 919)]
BRO_LABEL_POS = [(38, 131), (586, 134), (35, 618), (582, 618)]
TEMP_LABEL_POS = [(38, 343), (583, 349), (37, 830), (582, 830)]
DATE_LABEL_POS = [(302, 493), (848, 490), (288, 977), (831, 977)]

FONT = "Liberation Sans, Arial, Helvetica, sans-serif"
AXIS_COLOR = "#8a8a8a"
TEXT_COLOR = "#222222"
BLUE = "#4a4aff"
RED = "#e8323c"


def px(x):
    return x / W


def py(y):
    return 1 - y / H


def ax_id(letter, k):
    return letter if k == 1 else f"{letter}{k}"


def to_dates(year, days):
    base = pd.Timestamp(f"{year}-04-21")
    return [None if d is None else base + pd.Timedelta(days=d) for d in days]


fig = go.Figure()
layout = {}
shapes = []
annotations = []

for i in range(4):
    g = GEOM[i]
    year = YEARS[i]
    bro, temp = SERIES[i]
    kb, kt = 2 * i + 1, 2 * i + 2
    xb, yb, xt, yt = ax_id("x", kb), ax_id("y", kb), ax_id("x", kt), ax_id("y", kt)

    bro_days = [d for d, _ in bro]
    bro_vals = [v for _, v in bro]
    t_days = [d for d, _ in temp]
    t_vals = [v for _, v in temp]

    fig.add_trace(go.Scatter(
        x=to_dates(year, bro_days), y=bro_vals, mode="markers",
        marker=dict(symbol="circle-open", size=9.5, color="#111111", line=dict(width=1.1)),
        xaxis=xb, yaxis=yb, showlegend=False, hoverinfo="skip"))
    fig.add_trace(go.Scatter(
        x=to_dates(year, t_days), y=t_vals, mode="lines", connectgaps=False,
        line=dict(color="#111111", width=1.3),
        xaxis=xt, yaxis=yt, showlegend=False, hoverinfo="skip"))

    base = pd.Timestamp(f"{year}-04-21")
    xrange = [base + pd.Timedelta(days=g["xr"][0]), base + pd.Timedelta(days=g["xr"][1])]
    # labelled ticks every 20 days, small ticks every day
    major = [base + pd.Timedelta(days=d) for d in LABEL_DAYS]
    minor_vals = [base + pd.Timedelta(days=d) for d in range(-1, 61) if d not in LABEL_DAYS]
    all_days = [base + pd.Timedelta(days=d) for d in range(-1, 61)]

    xdom = [px(g["x0"]), px(g["x1"])]
    common_x = dict(
        domain=xdom, type="date", range=xrange, showgrid=False, zeroline=False,
        showline=True, linecolor=AXIS_COLOR, linewidth=1,
        tickcolor=AXIS_COLOR, tickwidth=1,
        tickfont=dict(family=FONT, size=12, color=TEXT_COLOR),
    )
    # top frame: unlabelled daily ticks only
    layout[ax_id("xaxis", kb)] = dict(
        common_x, anchor=yb, side="top", showticklabels=False,
        tickmode="array", tickvals=[], ticks="",
        minor=dict(tickmode="array", tickvals=all_days, ticks="outside", ticklen=4,
                   tickcolor=AXIS_COLOR, tickwidth=1, showgrid=False))
    # bottom frame: labelled dates every 20 days
    layout[ax_id("xaxis", kt)] = dict(
        common_x, anchor=yt, side="bottom",
        tickmode="array", tickvals=major, ticktext=DATE_LABELS[year],
        ticks="outside", ticklen=7,
        minor=dict(tickmode="array", tickvals=minor_vals, ticks="outside", ticklen=4,
                   tickcolor=AXIS_COLOR, tickwidth=1, showgrid=False))

    common_y = dict(
        showgrid=False, zeroline=False, showline=True, mirror=True, linecolor=AXIS_COLOR,
        linewidth=1, ticks="outside", ticklen=6, tickcolor=AXIS_COLOR, tickwidth=1,
        tickfont=dict(family=FONT, size=12, color=TEXT_COLOR), tickmode="array",
    )
    layout[ax_id("yaxis", kb)] = dict(common_y, anchor=xb, domain=[py(g["mid"]), py(g["top"])],
                                      range=list(g["bro_r"]), tickvals=BRO_TICKS,
                                      ticktext=[str(t) for t in BRO_TICKS])
    tt = TEMP_TICKS[i]
    layout[ax_id("yaxis", kt)] = dict(common_y, anchor=xt, domain=[py(g["bot"]), py(g["mid"])],
                                      range=list(g["t_r"]), tickvals=tt,
                                      ticktext=[str(t) for t in tt])

    # reference lines: BrO zero, BrO threshold, 0 °C
    shapes.append(dict(type="line", xref=f"{xb} domain", yref=yb, x0=0, x1=1, y0=0, y1=0,
                       line=dict(color="#555555", width=1.6), layer="below"))
    shapes.append(dict(type="line", xref=f"{xb} domain", yref=yb, x0=0, x1=1,
                       y0=BRO_THRESHOLD, y1=BRO_THRESHOLD,
                       line=dict(color=BLUE, width=1.4, dash="7px,5px"), layer="below"))
    shapes.append(dict(type="line", xref=f"{xt} domain", yref=yt, x0=0, x1=1, y0=0, y1=0,
                       line=dict(color="#1a1a1a", width=1.5, dash="6px,5px"), layer="below"))

    # event lines spanning both sub-plots
    blue_d, red_d = EVENT_DAYS[i]
    same = abs(blue_d - red_d) < 1e-6
    red_op = (0.55 if i == 2 else 0.8) if same else 1.0
    for d, col, op in ((blue_d, BLUE, 1.0), (red_d, RED, red_op)):
        xd = base + pd.Timedelta(days=d)
        shapes.append(dict(type="line", xref=xt, yref="paper", x0=xd, x1=xd,
                           y0=py(g["bot"]), y1=py(g["top"]), opacity=op,
                           line=dict(color=col, width=2, dash="6px,5px")))

    annotations.append(dict(text=BUOYS[i], x=px(TITLE_POS[i][0]), y=py(TITLE_POS[i][1]),
                            xref="paper", yref="paper", showarrow=False,
                            xanchor="center", yanchor="middle",
                            font=dict(family=FONT, size=12, color=TEXT_COLOR)))
    annotations.append(dict(text=LETTERS[i], x=px(LETTER_POS[i][0]), y=py(LETTER_POS[i][1]),
                            xref="paper", yref="paper", showarrow=False,
                            xanchor="center", yanchor="middle",
                            font=dict(family="Open Sans, Lato, sans-serif", size=27,
                                      color="#111111")))
    annotations.append(dict(text="BrO 1° dSCD / (10<sup>14</sup> molecule cm<sup>-2</sup>)",
                            x=px(BRO_LABEL_POS[i][0]), y=py(BRO_LABEL_POS[i][1]),
                            xref="paper", yref="paper", showarrow=False, textangle=-90,
                            xanchor="center", yanchor="middle",
                            font=dict(family=FONT, size=12, color=TEXT_COLOR)))
    annotations.append(dict(text="Temperature / °C",
                            x=px(TEMP_LABEL_POS[i][0]), y=py(TEMP_LABEL_POS[i][1]),
                            xref="paper", yref="paper", showarrow=False, textangle=-90,
                            xanchor="center", yanchor="middle",
                            font=dict(family=FONT, size=12, color=TEXT_COLOR)))
    annotations.append(dict(text="Date / Time UTC",
                            x=px(DATE_LABEL_POS[i][0]), y=py(DATE_LABEL_POS[i][1]),
                            xref="paper", yref="paper", showarrow=False,
                            xanchor="center", yanchor="middle",
                            font=dict(family=FONT, size=12, color=TEXT_COLOR)))

fig.update_layout(
    width=W, height=H, margin=dict(l=0, r=0, t=0, b=0),
    paper_bgcolor="white", plot_bgcolor="white",
    showlegend=False, shapes=shapes, annotations=annotations, **layout,
)

fig.write_html("out.html")
